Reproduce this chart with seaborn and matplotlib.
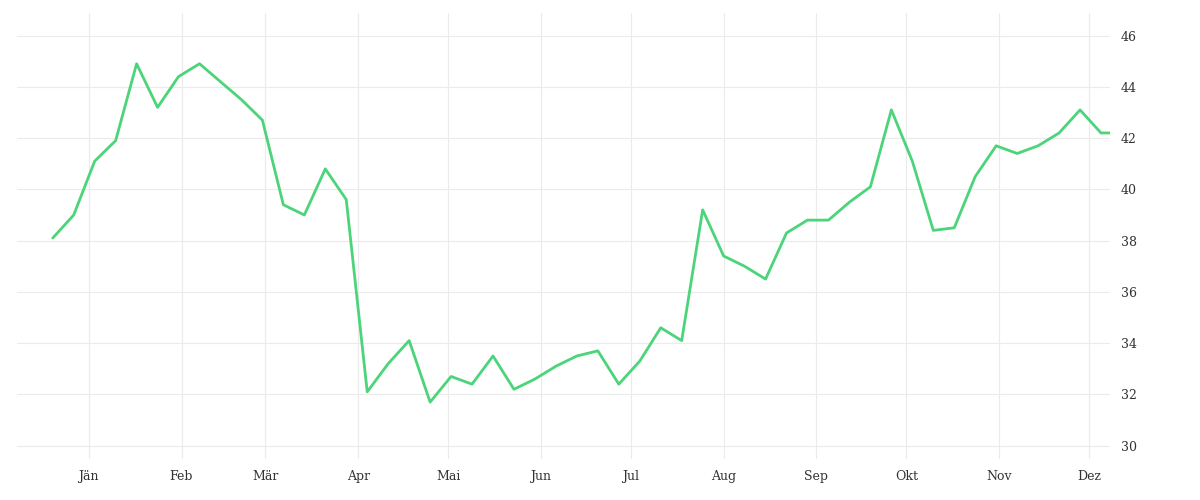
import matplotlib
matplotlib.use("Agg")
import matplotlib.pyplot as plt
import matplotlib.dates as mdates
import seaborn as sns
import pandas as pd

values = [38.1, 39.0, 41.1, 41.9, 44.9, 43.2, 44.4, 44.9, 44.2, 43.5, 42.7, 39.4, 39.0,
          40.8, 39.6, 32.1, 33.2, 34.1, 31.7, 32.7, 32.4, 33.5, 32.2, 32.6, 33.1, 33.5,
          33.7, 32.4, 33.3, 34.6, 34.1, 39.2, 37.4, 37.0, 36.5, 38.3, 38.8, 38.8, 39.5,
          40.1, 43.1, 41.1, 38.4, 38.5, 40.5, 41.7, 41.4, 41.7, 42.2, 43.1, 42.2, 42.2]
dates = list(pd.date_range("2018-12-20", periods=51, freq="7D")) + [pd.Timestamp("2019-12-08")]
month_labels = ["Jän", "Feb", "Mär", "Apr", "Mai", "Jun", "Jul", "Aug", "Sep", "Okt", "Nov", "Dez"]

df = pd.DataFrame({"date": dates, "value": values})

sns.set_style("white")
plt.rcParams["font.family"] = ["DejaVu Serif"]
fig, ax = plt.subplots(figsize=(12, 5), dpi=100)
fig.subplots_adjust(left=0.014, right=0.925, top=0.975, bottom=0.083)
sns.lineplot(data=df, x="date", y="value", ax=ax, color="#4cd47a", linewidth=2)

ticks = [pd.Timestamp(f"2019-{m:02d}-01") for m in range(1, 13)]
ax.set_xticks(ticks)
ax.set_xticklabels(month_labels)
ax.set_xlim(pd.Timestamp("2018-12-08"), pd.Timestamp("2019-12-08"))
ax.set_ylim(29.5, 46.9)
ax.set_yticks(range(30, 47, 2))
ax.yaxis.tick_right()
ax.grid(True, color="#ebebeb", linewidth=0.8)
for s in ax.spines.values():
    s.set_visible(False)
ax.tick_params(axis="both", length=0, labelsize=9, colors="#333333", pad=8)
ax.set_xlabel("")
ax.set_ylabel("")
fig.savefig("out.png")
